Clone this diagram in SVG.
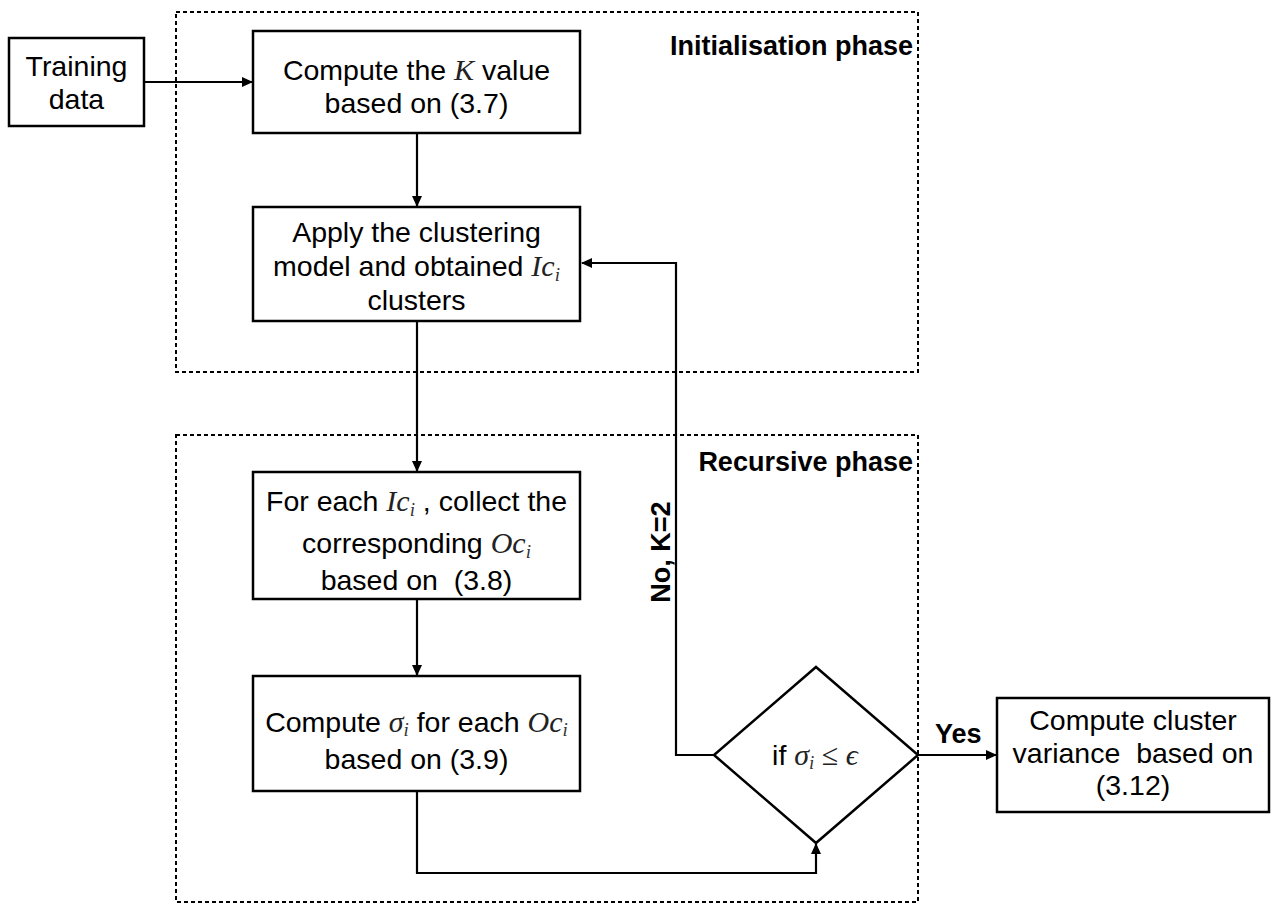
<svg xmlns="http://www.w3.org/2000/svg" width="1271" height="904" viewBox="0 0 1271 904">
  <style>
    .box { fill: #ffffff; stroke: #000000; stroke-width: 2.5; }
    .phase { fill: none; stroke: #000000; stroke-width: 2; stroke-dasharray: 4 3; }
    .wire { fill: none; stroke: #000000; stroke-width: 2.2; }
    .t { font-family: "Liberation Sans", Arial, Helvetica, sans-serif; font-size: 28.5px; fill: #000000; text-anchor: middle; white-space: pre; }
    .b { font-family: "Liberation Sans", Arial, Helvetica, sans-serif; font-size: 27px; font-weight: bold; fill: #000000; white-space: pre; }
    .m { font-family: "Liberation Serif", "Times New Roman", "DejaVu Serif", serif; font-style: italic; font-size: 30px; fill: #222222; }
    .s { font-family: "Liberation Serif", "Times New Roman", "DejaVu Serif", serif; font-style: italic; font-size: 19px; fill: #333333; }
  </style>
  <defs>
    <marker id="arrow" markerUnits="userSpaceOnUse" markerWidth="11" markerHeight="10" refX="10" refY="5" orient="auto">
      <path d="M0,0 L11,5 L0,10 z" fill="#000000"/>
    </marker>
  </defs>

  <!-- phase frames -->
  <g id="initialisation-phase">
    <rect class="phase" x="176" y="12" width="742" height="360"/>
    <text class="b" x="913" y="55" text-anchor="end">Initialisation phase</text>
  </g>
  <g id="recursive-phase">
    <rect class="phase" x="176" y="435" width="742" height="467"/>
    <text class="b" x="913" y="471" text-anchor="end">Recursive phase</text>
  </g>

  <!-- connectors -->
  <g id="connectors">
    <path class="wire" d="M144,82 H252" marker-end="url(#arrow)"/>
    <path class="wire" d="M417,133 V206" marker-end="url(#arrow)"/>
    <path class="wire" d="M417,321 V471" marker-end="url(#arrow)"/>
    <path class="wire" d="M417,599 V675" marker-end="url(#arrow)"/>
    <path class="wire" d="M417,791 V873 H816 V844" marker-end="url(#arrow)"/>
    <path class="wire" d="M714,755 H676 V263 H582" marker-end="url(#arrow)"/>
    <path class="wire" d="M918,755 H996" marker-end="url(#arrow)"/>
    <text class="b" transform="translate(670,552) rotate(-90)" text-anchor="middle">No, K=2</text>
    <text class="b" x="935" y="743">Yes</text>
  </g>

  <!-- nodes -->
  <g id="training-data">
    <rect class="box" x="9" y="38" width="135" height="88"/>
    <text class="t" x="76.5" y="76">Training</text>
    <text class="t" x="76.5" y="109">data</text>
  </g>

  <g id="compute-k">
    <rect class="box" x="253" y="31" width="327" height="102"/>
    <text class="t" x="416.5" y="80">Compute the <tspan class="m">K</tspan> value</text>
    <text class="t" x="416.5" y="113">based on (3.7)</text>
  </g>

  <g id="apply-clustering">
    <rect class="box" x="253" y="207" width="327" height="114"/>
    <text class="t" x="416.5" y="242">Apply the clustering</text>
    <text class="t" x="416.5" y="276">model and obtained <tspan class="m">Ic</tspan><tspan class="s" dy="5">i</tspan></text>
    <text class="t" x="416.5" y="310">clusters</text>
  </g>

  <g id="collect-oc">
    <rect class="box" x="253" y="472" width="327" height="127"/>
    <text class="t" x="416.5" y="511">For each <tspan class="m">Ic</tspan><tspan class="s" dy="5">i</tspan><tspan dy="-5"> , collect the</tspan></text>
    <text class="t" x="416.5" y="553">corresponding <tspan class="m">Oc</tspan><tspan class="s" dy="5">i</tspan></text>
    <text class="t" x="416.5" y="590">based on  (3.8)</text>
  </g>

  <g id="compute-sigma">
    <rect class="box" x="253" y="676" width="327" height="115"/>
    <text class="t" x="416.5" y="732">Compute <tspan class="m">σ</tspan><tspan class="s" dy="4">i</tspan><tspan dy="-4"> for each </tspan><tspan class="m">Oc</tspan><tspan class="s" dy="4">i</tspan></text>
    <text class="t" x="416.5" y="769">based on (3.9)</text>
  </g>

  <g id="variance-test">
    <polygon class="box" points="816,667 918,755 816,843 714,755"/>
    <text class="t" x="815" y="765">if <tspan class="m" font-size="26">σ</tspan><tspan class="s" font-size="17" dy="4">i</tspan><tspan class="m" font-size="26" dy="-4"> ≤ ϵ</tspan></text>
  </g>

  <g id="cluster-variance">
    <rect class="box" x="997" y="698" width="272" height="114"/>
    <text class="t" x="1133" y="730">Compute cluster</text>
    <text class="t" x="1133" y="763">variance  based on</text>
    <text class="t" x="1133" y="795">(3.12)</text>
  </g>
</svg>
